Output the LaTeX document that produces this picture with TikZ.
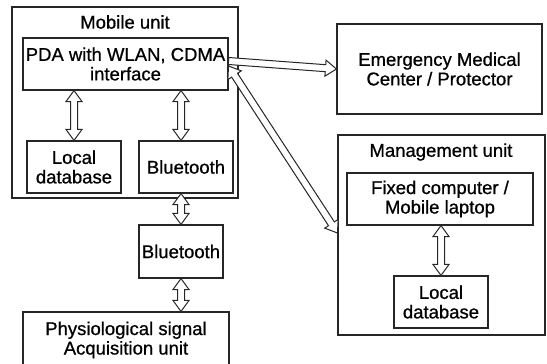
\documentclass[tikz,border=0pt]{standalone}
\usepackage{fontspec}
\setmainfont[FakeBold=0.8]{Liberation Sans}
\usetikzlibrary{calc}
\def\aw{3.5pt}\def\ah{8pt}\def\al{11pt}
\tikzset{
  every node/.style={font=\fontsize{18.5}{19.5}\selectfont},
  box/.style={draw=black!85, line width=1.1pt, inner sep=0pt, align=center},
  lbl/.style={inner sep=0pt, align=center},
  arr/.style={draw=black!85, line width=1pt, fill=white, line join=miter},
  dbl/.style={arr, to path={
    (\tikztostart) coordinate (aS) (\tikztotarget) coordinate (aT)
    ($(aS)!\al!(aT)$) coordinate (aS1) ($(aT)!\al!(aS)$) coordinate (aT1)
    (aS) -- ($(aS1)!\ah!90:(aT)$) -- ($(aS1)!\aw!90:(aT)$) -- ($(aT1)!\aw!-90:(aS)$)
    -- ($(aT1)!\ah!-90:(aS)$) -- (aT) -- ($(aT1)!\ah!90:(aS)$) -- ($(aT1)!\aw!90:(aS)$)
    -- ($(aS1)!\aw!-90:(aT)$) -- ($(aS1)!\ah!-90:(aT)$) -- cycle}},
  sgl/.style={arr, to path={
    (\tikztostart) coordinate (aS) (\tikztotarget) coordinate (aT)
    ($(aT)!\al!(aS)$) coordinate (aT1)
    ($(aS)!\aw!90:(aT)$) -- ($(aT1)!\aw!-90:(aS)$) -- ($(aT1)!\ah!-90:(aS)$) -- (aT)
    -- ($(aT1)!\ah!90:(aS)$) -- ($(aT1)!\aw!90:(aS)$) -- ($(aS)!\aw!-90:(aT)$) -- cycle}}
}
\begin{document}
\begin{tikzpicture}[x=1pt,y=-1pt]
\useasboundingbox (0,0) rectangle (547,364);
\clip (0,0) rectangle (547,364);
% Mobile unit
\node[box, minimum width=226pt, minimum height=191pt] (mobile) at (125,102.5) {};
\node[lbl] (mobtitle) at (125,22) {Mobile unit};
\node[box, minimum width=205pt, minimum height=52pt] (pda) at (125.5,64) {PDA with WLAN, CDMA\\interface};
\node[box, minimum width=94pt, minimum height=52pt] (ldb1) at (74,167) {Local\\database};
\node[box, minimum width=94pt, minimum height=52pt] (bt1) at (186,167) {Bluetooth};
\node[box, minimum width=84pt, minimum height=53pt] (bt2) at (181,251.5) {Bluetooth};
\node[box, minimum width=206pt, minimum height=56pt] (phys) at (126,340) {Physiological signal\\Acquisition unit};
% Right side
\node[box, minimum width=205pt, minimum height=90pt] (emc) at (439.5,69) {Emergency Medical\\Center / Protector};
\node[box, minimum width=207pt, minimum height=200pt] (mgmt) at (441.5,235) {};
\node[lbl] (mgmttitle) at (441,152) {Management unit};
\node[box, minimum width=186pt, minimum height=52pt] (fixed) at (440,199) {Fixed computer /\\Mobile laptop};
\node[box, minimum width=94pt, minimum height=52pt] (ldb2) at (441,302) {Local\\database};
% Arrows
\draw[dbl] (pda.south -| ldb1.north) to (ldb1.north);
\draw[dbl] (pda.south -| bt2.north) to (bt1.north -| bt2.north);
\draw[dbl] (bt1.south -| bt2.north) to (bt2.north);
\draw[dbl] (bt2.south) to (phys.north -| bt2.south);
\draw[dbl] (fixed.south -| ldb2.north) to (ldb2.north);
\draw[dbl] ([yshift=-2pt]pda.east) to ([yshift=2pt]mgmt.west);
\draw[sgl] ([yshift=3pt]pda.east) to (emc.west);
\end{tikzpicture}
\end{document}
